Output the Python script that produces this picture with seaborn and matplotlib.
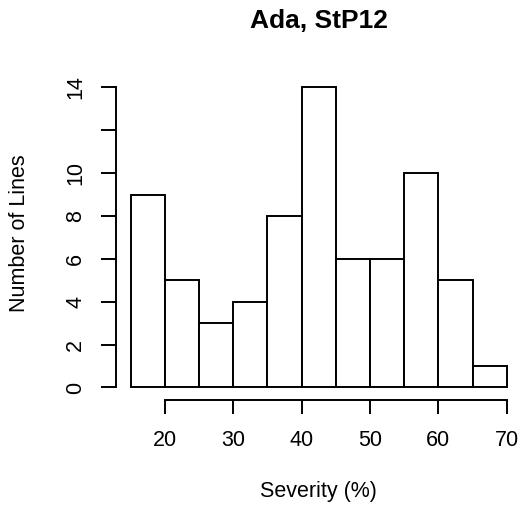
import matplotlib
matplotlib.use("Agg")
import matplotlib.pyplot as plt
import seaborn as sns
import numpy as np
import pandas as pd

# Histogram of severity scores: bin edges (in %) and line counts per bin
bin_edges = [15, 20, 25, 30, 35, 40, 45, 50, 55, 60, 65, 70]
line_counts = [9, 5, 3, 4, 8, 14, 6, 6, 10, 5, 1]
x_ticks = [20, 30, 40, 50, 60, 70]
y_ticks = [0, 2, 4, 6, 8, 10, 12, 14]
y_tick_labels = ["0", "2", "4", "6", "8", "10", "", "14"]
title = "Ada, StP12"
x_label = "Severity (%)"
y_label = "Number of Lines"

sns.set_style("white")
plt.rcParams["font.family"] = ["Liberation Sans", "DejaVu Sans"]
plt.rcParams["text.color"] = "black"
plt.rcParams["axes.labelcolor"] = "black"

W, H = 520, 513
fig = plt.figure(figsize=(W / 100, H / 100), dpi=100)

# plot region in pixels
left_px, right_px, top_px, bottom_px = 115.5, 520.0, 75.3, 399.5
ax = fig.add_axes([left_px / W, 1 - bottom_px / H,
                   (right_px - left_px) / W, (bottom_px - top_px) / H])

centers = [(a + b) / 2 for a, b in zip(bin_edges[:-1], bin_edges[1:])]
df = pd.DataFrame({"severity": centers, "count": line_counts})

lw = 1.4
sns.histplot(data=df, x="severity", weights="count", bins=bin_edges,
             color="white", edgecolor="black", linewidth=lw, alpha=1,
             ax=ax)

xspan = (bin_edges[-1] - bin_edges[0]) * 0.04
ax.set_xlim(bin_edges[0] - xspan,
            bin_edges[0] - xspan + (right_px - left_px) / 6.84)
ax.set_ylim(-0.56, 14.56)

for s in ["top", "right"]:
    ax.spines[s].set_visible(False)
ax.spines["left"].set_bounds(0, 14)
ax.spines["bottom"].set_bounds(20, 70)
for s in ["left", "bottom"]:
    ax.spines[s].set_linewidth(lw)
    ax.spines[s].set_color("black")

fs = 15.5
ax.set_xticks(x_ticks)
ax.set_xticklabels([str(v) for v in x_ticks])
ax.set_yticks(y_ticks)
ax.set_yticklabels(y_tick_labels, rotation=90, va="center")

ax.tick_params(axis="x", length=10, width=lw, color="black", pad=12,
               labelsize=fs, labelcolor="black", bottom=True)
ax.tick_params(axis="y", length=10.5, width=lw, color="black", pad=10.5,
               labelsize=fs, labelcolor="black", left=True)

ax.set_xlabel(x_label, fontsize=fs, color="black", va="baseline")
ax.xaxis.set_label_coords((318.9 - left_px) / (right_px - left_px),
                          (bottom_px - 497) / (bottom_px - top_px))
ax.set_ylabel(y_label, fontsize=fs, color="black", va="center", ha="center")
ax.yaxis.set_label_coords((20 - left_px) / (right_px - left_px), 0.512)

ax.set_title(title, fontsize=19, fontweight="bold", color="black",
             va="baseline", y=(bottom_px - 28) / (bottom_px - top_px), pad=0)
ax.title.set_x((318.9 - left_px) / (right_px - left_px))

ax.grid(False)
fig.savefig("out.png", dpi=100, facecolor="white")
